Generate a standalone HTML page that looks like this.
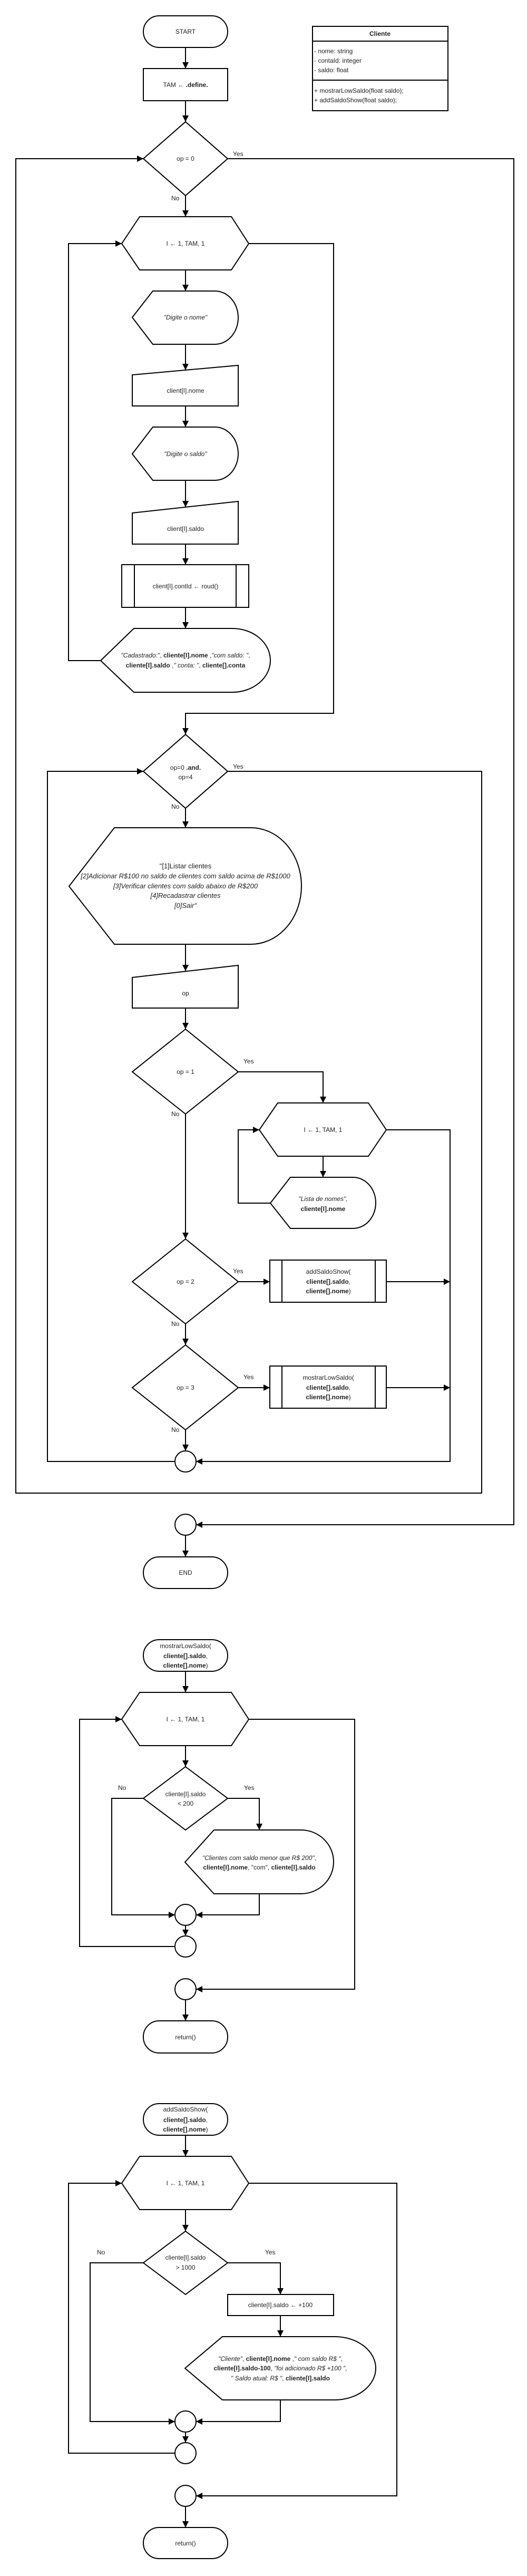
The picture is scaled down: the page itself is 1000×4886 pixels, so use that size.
<!DOCTYPE html>
<html><head><meta charset="utf-8"><style>
html,body{margin:0;padding:0;background:#fff;}
svg{display:block;}
text{font-family:"Liberation Sans",sans-serif;font-size:12px;fill:#222;}
.b{font-weight:bold;}
.i{font-style:italic;}
</style></head><body>
<svg width="1000" height="4886" viewBox="0 0 1000 4886" xmlns="http://www.w3.org/2000/svg">
<defs>
<marker id="a" markerUnits="userSpaceOnUse" markerWidth="12" markerHeight="12" viewBox="0 0 10 10" refX="10" refY="5" orient="auto">
<path d="M0,0 L10,5 L0,10 z" fill="#000"/></marker>
</defs>
<g fill="#fff" stroke="#000" stroke-width="2">
<!-- main shapes -->
<rect x="272" y="30" width="160" height="60" rx="30" ry="30"/>
<rect x="272" y="130" width="160" height="61"/>
<rect x="593" y="50" width="257" height="160"/>
<line x1="593" y1="78" x2="850" y2="78"/>
<line x1="593" y1="152" x2="850" y2="152"/>
<polygon points="352,231 432,301 352,371 272,301"/>
<polygon points="265,411 439,411 472,462 439,512 265,512 231,462"/>
<path d="M251,602 L290,552 L408,552 A44,50.5 0 0 1 408,653 L290,653 Z"/>
<polygon points="251,711 452,693 452,770 251,770"/>
<path d="M251,861 L290,810 L408,810 A44,50.5 0 0 1 408,911 L290,911 Z"/>
<polygon points="251,973 452,951 452,1032 251,1032"/>
<rect x="231" y="1071" width="241" height="81"/>
<line x1="255" y1="1071" x2="255" y2="1152"/>
<line x1="448" y1="1071" x2="448" y2="1152"/>
<path d="M191,1253 L254,1192 L441,1192 A72,60.5 0 0 1 441,1313 L254,1313 Z"/>
<polygon points="352,1393 432,1463 352,1533 272,1463"/>
<path d="M131,1681 L217,1570 L476,1570 A96,110.5 0 0 1 476,1791 L217,1791 Z"/>
<polygon points="251,1854 452,1831 452,1912 251,1912"/>
<polygon points="352,1952 452,2033 352,2113 251,2033"/>
<polygon points="527,2092 699,2092 733,2143 699,2193 527,2193 492,2143"/>
<path d="M513,2282 L551,2233 L670,2233 A43,48.5 0 0 1 670,2330 L551,2330 Z"/>
<polygon points="352,2350 452,2431 352,2511 251,2431"/>
<rect x="512" y="2390" width="221" height="80"/>
<line x1="535" y1="2390" x2="535" y2="2470"/>
<line x1="712" y1="2390" x2="712" y2="2470"/>
<polygon points="352,2551 452,2632 352,2712 251,2632"/>
<rect x="512" y="2591" width="221" height="80"/>
<line x1="535" y1="2591" x2="535" y2="2671"/>
<line x1="712" y1="2591" x2="712" y2="2671"/>
<circle cx="352" cy="2772" r="20"/>
<circle cx="352" cy="2892" r="20"/>
<rect x="272" y="2953" width="160" height="60" rx="30" ry="30"/>
<!-- function 1 -->
<rect x="272" y="3110" width="160" height="60" rx="30" ry="30"/>
<polygon points="265,3210 439,3210 472,3261 439,3311 265,3311 231,3261"/>
<polygon points="352,3351 432,3411 352,3471 272,3411"/>
<path d="M351,3532 L406,3471 L571,3471 A62,60.5 0 0 1 571,3592 L406,3592 Z"/>
<circle cx="352" cy="3632" r="20"/>
<circle cx="352" cy="3692" r="20"/>
<circle cx="352" cy="3773" r="20"/>
<rect x="272" y="3833" width="160" height="61" rx="30" ry="30"/>
<!-- function 2 -->
<rect x="272" y="3990" width="160" height="60" rx="30" ry="30"/>
<polygon points="265,4090 439,4090 472,4141 439,4191 265,4191 231,4141"/>
<polygon points="352,4232 432,4292 352,4352 272,4292"/>
<rect x="432" y="4352" width="201" height="40"/>
<path d="M351,4492 L422,4432 L635,4432 A78,60 0 0 1 635,4552 L422,4552 Z"/>
<circle cx="352" cy="4593" r="20"/>
<circle cx="352" cy="4653" r="20"/>
<circle cx="352" cy="4734" r="20"/>
<rect x="272" y="4794" width="160" height="59" rx="29.5" ry="29.5"/>
</g>
<g fill="none" stroke="#000" stroke-width="2" marker-end="url(#a)">
<path d="M352,90 V130"/>
<path d="M352,191 V231"/>
<path d="M352,371 V411"/>
<path d="M432,301 H975 V2892 H372"/>
<path d="M352,512 V552"/>
<path d="M352,653 V702"/>
<path d="M352,770 V810"/>
<path d="M352,911 V962"/>
<path d="M352,1032 V1071"/>
<path d="M352,1152 V1192"/>
<path d="M191,1253 H130 V462 H231"/>
<path d="M472,462 H633 V1353 H352 V1393"/>
<path d="M352,1533 V1570"/>
<path d="M432,1463 H914 V2832 H30 V301 H272"/>
<path d="M352,1791 V1842"/>
<path d="M352,1912 V1952"/>
<path d="M452,2033 H613 V2092"/>
<path d="M613,2193 V2233"/>
<path d="M513,2282 H452 V2143 H492"/>
<path d="M733,2143 H854 V2772 H372"/>
<path d="M352,2113 V2350"/>
<path d="M452,2431 H512"/>
<path d="M733,2431 H854"/>
<path d="M352,2511 V2551"/>
<path d="M452,2632 H512"/>
<path d="M733,2632 H854"/>
<path d="M352,2712 V2752"/>
<path d="M332,2772 H90 V1463 H272"/>
<path d="M352,2912 V2953"/>
<!-- f1 -->
<path d="M352,3170 V3210"/>
<path d="M352,3311 V3351"/>
<path d="M272,3411 H212 V3632 H332"/>
<path d="M432,3411 H492 V3471"/>
<path d="M492,3592 V3632 H372"/>
<path d="M352,3652 V3672"/>
<path d="M332,3692 H151 V3261 H231"/>
<path d="M472,3261 H673 V3773 H372"/>
<path d="M352,3793 V3833"/>
<!-- f2 -->
<path d="M352,4050 V4090"/>
<path d="M352,4191 V4232"/>
<path d="M272,4292 H171 V4593 H332"/>
<path d="M432,4292 H532 V4352"/>
<path d="M532,4392 V4432"/>
<path d="M532,4552 V4593 H372"/>
<path d="M352,4613 V4633"/>
<path d="M332,4653 H130 V4141 H231"/>
<path d="M472,4141 H753 V4734 H372"/>
<path d="M352,4754 V4794"/>
</g>
<g text-anchor="middle">
<text x="352" y="64">START</text>
<text x="352" y="165">TAM ← <tspan class="b">.define.</tspan></text>
<text x="721" y="68" class="b">Cliente</text>
<text x="352" y="305">op = 0</text>
<text x="352" y="466">I ← 1, TAM, 1</text>
<text x="352" y="606" class="i">"Digite o nome"</text>
<text x="352" y="745">client[I].nome</text>
<text x="352" y="865" class="i">"Digite o saldo"</text>
<text x="352" y="1007">client[I].saldo</text>
<text x="352" y="1116">client[I].contId ← roud()</text>
<text x="352" y="1247"><tspan class="i">"Cadastrado:"</tspan>, <tspan class="b">cliente[I].nome</tspan> ,<tspan class="i">"com saldo: "</tspan>,</text>
<text x="352" y="1266"><tspan class="b">cliente[I].saldo</tspan> ,<tspan class="i">" conta: "</tspan>, <tspan class="b">cliente[].conta</tspan></text>
<text x="352" y="1460">op=0 <tspan class="b">.and.</tspan></text>
<text x="352" y="1478">op=4</text>
<g style="font-size:13px">
<text x="352" y="1647" style="font-size:13px">"[1]Listar clientes</text>
<text x="352" y="1666" class="i" style="font-size:13px">[2]Adicionar R$100 no saldo de clientes com saldo acima de R$1000</text>
<text x="352" y="1685" class="i" style="font-size:13px">[3]Verificar clientes com saldo abaixo de R$200</text>
<text x="352" y="1703" class="i" style="font-size:13px">[4]Recadastrar clientes</text>
<text x="352" y="1722" class="i" style="font-size:13px">[0]Sair"</text>
</g>
<text x="352" y="1888">op</text>
<text x="352" y="2037">op = 1</text>
<text x="613" y="2147">I ← 1, TAM, 1</text>
<text x="613" y="2278" class="i">"Lista de nomes",</text>
<text x="613" y="2297" class="b">cliente[I].nome</text>
<text x="352" y="2435">op = 2</text>
<text x="623" y="2416">addSaldoShow(</text>
<text x="623" y="2435"><tspan class="b">cliente[].saldo</tspan>,</text>
<text x="623" y="2453"><tspan class="b">cliente[].nome</tspan>)</text>
<text x="352" y="2636">op = 3</text>
<text x="623" y="2617">mostrarLowSaldo(</text>
<text x="623" y="2636"><tspan class="b">cliente[].saldo</tspan>,</text>
<text x="623" y="2654"><tspan class="b">cliente[].nome</tspan>)</text>
<text x="352" y="2987">END</text>
<text x="352" y="3126">mostrarLowSaldo(</text>
<text x="352" y="3145"><tspan class="b">cliente[].saldo</tspan>,</text>
<text x="352" y="3163"><tspan class="b">cliente[].nome</tspan>)</text>
<text x="352" y="3265">I ← 1, TAM, 1</text>
<text x="352" y="3407">cliente[I].saldo</text>
<text x="352" y="3425">&lt; 200</text>
<text x="492" y="3528"><tspan class="i">"Clientes com saldo menor que R$ 200"</tspan>,</text>
<text x="492" y="3546"><tspan class="b">cliente[I].nome</tspan>, "com", <tspan class="b">cliente[I].saldo</tspan></text>
<text x="352" y="3868">return()</text>
<text x="352" y="4005">addSaldoShow(</text>
<text x="352" y="4025"><tspan class="b">cliente[].saldo</tspan>,</text>
<text x="352" y="4043"><tspan class="b">cliente[].nome</tspan>)</text>
<text x="352" y="4145">I ← 1, TAM, 1</text>
<text x="352" y="4286">cliente[I].saldo</text>
<text x="352" y="4305">&gt; 1000</text>
<text x="532" y="4376">cliente[I].saldo ← +100</text>
<text x="532" y="4478"><tspan class="i">"Cliente"</tspan>, <tspan class="b">cliente[I].nome</tspan> ,<tspan class="i">" com saldo R$ "</tspan>,</text>
<text x="532" y="4496"><tspan class="b">cliente[I].saldo-100</tspan>, <tspan class="i">"foi adicionado R$ +100 "</tspan>,</text>
<text x="532" y="4515"><tspan class="i">" Saldo atual: R$ "</tspan>, <tspan class="b">cliente[I].saldo</tspan></text>
<text x="352" y="4828">return()</text>
</g>
<g>
<text x="596" y="101">- nome: string</text>
<text x="596" y="119">- contaId: integer</text>
<text x="596" y="137">- saldo: float</text>
<text x="596" y="176">+ mostrarLowSaldo(float saldo);</text>
<text x="596" y="194">+ addSaldoShow(float saldo);</text>
<text x="442" y="296">Yes</text>
<text x="325" y="380">No</text>
<text x="442" y="1458">Yes</text>
<text x="325" y="1534">No</text>
<text x="462" y="2017">Yes</text>
<text x="325" y="2117">No</text>
<text x="442" y="2415">Yes</text>
<text x="325" y="2515">No</text>
<text x="462" y="2616">Yes</text>
<text x="325" y="2716">No</text>
<text x="224" y="3395">No</text>
<text x="463" y="3395">Yes</text>
<text x="184" y="4276">No</text>
<text x="503" y="4276">Yes</text>
</g>
</svg>
</body></html>
